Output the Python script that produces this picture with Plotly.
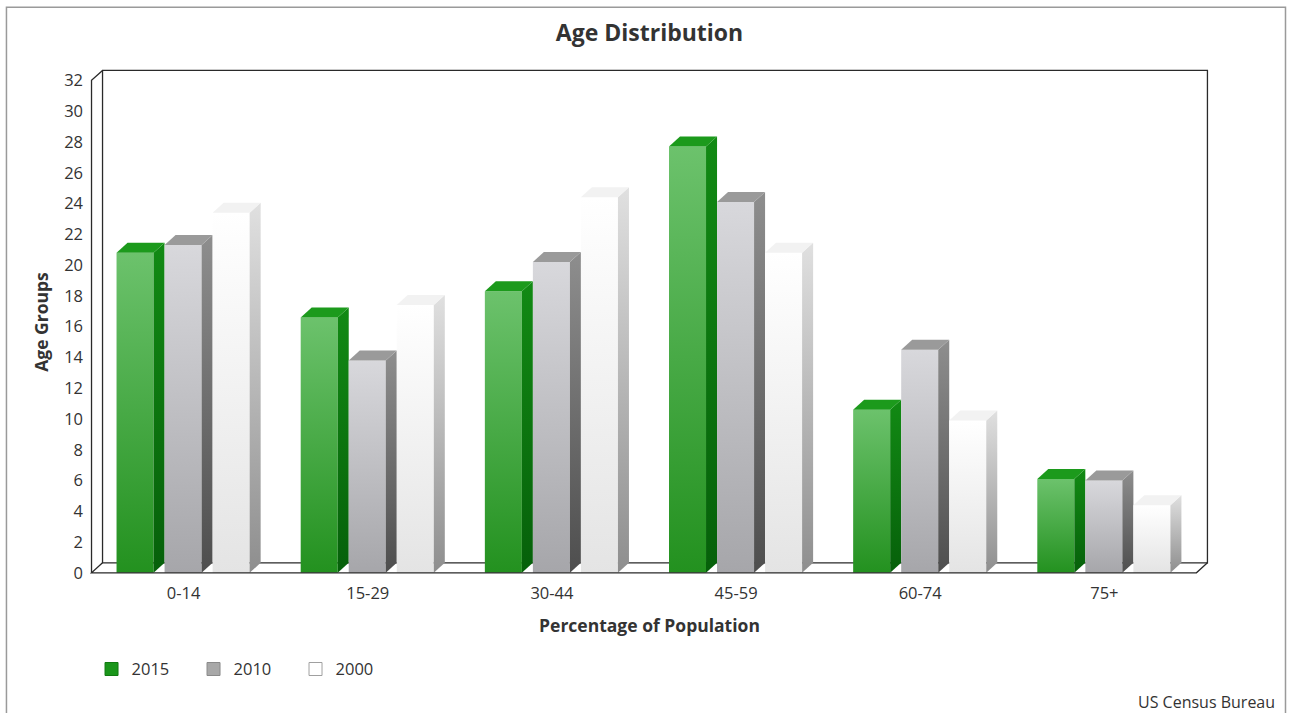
import plotly.graph_objects as go

# Data
categories = ["0-14", "15-29", "30-44", "45-59", "60-74", "75+"]
series_names = ["2015", "2010", "2000"]
values_2015 = [20.8, 16.6, 18.3, 27.7, 10.6, 6.1]
values_2010 = [21.3, 13.8, 20.2, 24.1, 14.5, 6.0]
values_2000 = [23.4, 17.4, 24.4, 20.8, 9.9, 4.4]
y_ticks = list(range(0, 33, 2))

series_values = [values_2015, values_2010, values_2000]

# Styling for the pseudo-3D column faces
styles = [
    dict(front=[[0, "#23911f"], [1, "#6cc26c"]], side=[[0, "#06600a"], [1, "#128a14"]],
         top="#1c9a1c", legend="#1a961a", legend_line="#117a11"),
    dict(front=[[0, "#a6a6aa"], [1, "#d8d8dc"]], side=[[0, "#4e4e4e"], [1, "#8e8e8e"]],
         top="#9a9a9a", legend="#a8a8a8", legend_line="#8a8a8a"),
    dict(front=[[0, "#e4e4e4"], [1, "#ffffff"]], side=[[0, "#8e8e8e"], [1, "#e0e0e0"]],
         top="#f2f2f2", legend="#ffffff", legend_line="#a0a0a0"),
]

# Geometry (x in category units, y in value units)
PX_X = 184.0          # pixels per category
PX_Y = 15.4           # pixels per value unit
bar_w = 37 / PX_X
bar_step = 48 / PX_X
first_off = -67 / PX_X
dx = 11 / PX_X        # depth offset in x
dy = 10 / PX_Y        # depth offset in y

x_range = [-0.53, 5.59]
y_range = [-0.4, 33.0]
plot_left = 92 + (x_range[0] + 0.5) * PX_X
plot_w = (x_range[1] - x_range[0]) * PX_X
zero_px = 573
plot_bottom = zero_px - y_range[0] * PX_Y
plot_h = (y_range[1] - y_range[0]) * PX_Y
W, H = 1290, 713

fig = go.Figure()

for j, vals in enumerate(series_values):
    st = styles[j]
    for i, v in enumerate(vals):
        x0 = i + first_off + j * bar_step
        x1 = x0 + bar_w
        # front face
        fig.add_trace(go.Scatter(
            x=[x0, x1, x1, x0, x0], y=[0, 0, v, v, 0], mode="lines", fill="toself",
            line=dict(width=0, color="rgba(0,0,0,0)"),
            fillgradient=dict(type="vertical", colorscale=st["front"], start=0, stop=v),
            showlegend=False, hoverinfo="skip"))
        # side face
        fig.add_trace(go.Scatter(
            x=[x1, x1 + dx, x1 + dx, x1, x1], y=[0, dy, v + dy, v, 0], mode="lines", fill="toself",
            line=dict(width=0, color="rgba(0,0,0,0)"),
            fillgradient=dict(type="vertical", colorscale=st["side"], start=0, stop=v + dy),
            showlegend=False, hoverinfo="skip"))
        # top face
        fig.add_trace(go.Scatter(
            x=[x0, x1, x1 + dx, x0 + dx, x0], y=[v, v, v + dy, v + dy, v], mode="lines", fill="toself",
            line=dict(width=0, color="rgba(0,0,0,0)"), fillcolor=st["top"],
            showlegend=False, hoverinfo="skip"))

# Legend entries
for j, name in enumerate(series_names):
    st = styles[j]
    fig.add_trace(go.Scatter(
        x=[None], y=[None], mode="markers", name=name,
        marker=dict(symbol="square", size=13, color=st["legend"],
                    line=dict(color=st["legend_line"], width=1))))

frame = dict(color="#2a2a2a", width=1.3)
shapes = [
    # back wall
    dict(type="rect", xref="x", yref="y", x0=-0.5 + dx, x1=5.5 + dx, y0=dy, y1=32 + dy,
         line=frame, fillcolor="rgba(0,0,0,0)", layer="below"),
    # front-left edge
    dict(type="path", xref="x", yref="y",
         path=f"M -0.5,0 L -0.5,32 L {-0.5 + dx},{32 + dy}", line=frame),
    # floor edges
    dict(type="path", xref="x", yref="y",
         path=f"M {-0.5 + dx},{dy} L -0.5,0 L 5.5,0 L {5.5 + dx},{dy}", line=frame),
    # outer chart border
    dict(type="rect", xref="paper", yref="paper",
         x0=(7 - plot_left) / plot_w, x1=(1285 - plot_left) / plot_w,
         y0=(plot_bottom - 725) / plot_h, y1=(plot_bottom - 7) / plot_h,
         line=dict(color="#9a9a9a", width=1.5), fillcolor="rgba(0,0,0,0)", layer="below"),
]

font_family = "Open Sans, Noto Sans, sans-serif"

fig.update_layout(
    width=W, height=H, autosize=False,
    margin=dict(l=plot_left, r=W - plot_left - plot_w, t=plot_bottom - plot_h, b=H - plot_bottom, pad=0),
    paper_bgcolor="white", plot_bgcolor="white",
    font=dict(family=font_family, size=17, color="#333333"),
    title=dict(text="<b>Age Distribution</b>", x=0.5, xref="paper", xanchor="center",
               y=1 - 33 / H, yanchor="middle", font=dict(size=23, color="#333333")),
    xaxis=dict(range=x_range, tickmode="array", tickvals=list(range(len(categories))),
               ticktext=categories, showgrid=False, zeroline=False, showline=False, ticks="",
               ticklabelstandoff=2, tickfont=dict(size=16.5),
               title=dict(text="<b>Percentage of Population</b>", font=dict(size=17.5), standoff=17),
               fixedrange=True),
    yaxis=dict(range=y_range, tickmode="array", tickvals=y_ticks, showgrid=False,
               zeroline=False, showline=False, ticks="", ticklabelstandoff=2,
               tickfont=dict(size=16.5),
               title=dict(text="<b>Age Groups</b>", font=dict(size=17.5), standoff=11),
               fixedrange=True),
    showlegend=True,
    legend=dict(orientation="h", x=(92 - plot_left) / plot_w, xanchor="left",
                y=(plot_bottom - 652) / plot_h, yanchor="top",
                font=dict(size=16.5, color="#333333"), entrywidth=57, itemwidth=30,
                bgcolor="rgba(0,0,0,0)"),
    shapes=shapes,
    annotations=[dict(text="US Census Bureau", xref="paper", yref="paper",
                      x=(1277 - plot_left) / plot_w, y=(plot_bottom - 702) / plot_h,
                      xanchor="right", yanchor="middle", showarrow=False,
                      font=dict(size=16, color="#333333"))],
)

fig.write_html("out.html")
